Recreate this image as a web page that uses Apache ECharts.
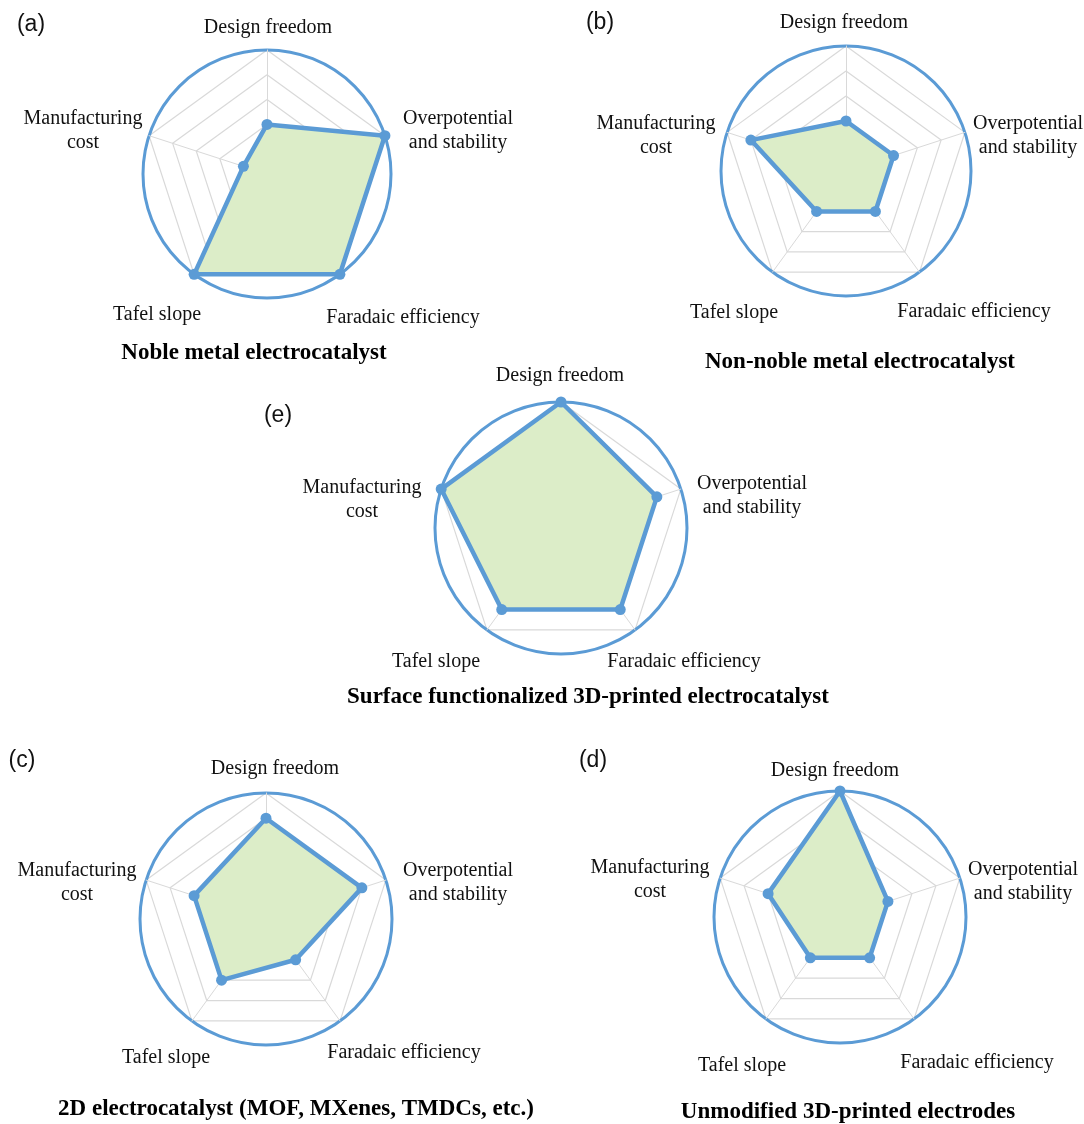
<!DOCTYPE html>
<html>
<head>
<meta charset="utf-8">
<script src="https://cdn.jsdelivr.net/npm/echarts@6/dist/echarts.min.js"></script>
<style>
  html, body { margin: 0; padding: 0; background: #ffffff; }
  #chart { width: 1084px; height: 1124px; }
</style>
</head>
<body>
<div id="chart"></div>
<script>
// Criteria shared by every radar, clockwise from the top
const indicators = [
  'Design freedom',
  'Overpotential\nand stability',
  'Faradaic efficiency',
  'Tafel slope',
  'Manufacturing\ncost'
];
const maxScore = 5;

// Scores (0-5) per electrode type, in indicator order
const nobleMetal = [2, 5, 5, 5, 1];
const nonNobleMetal = [2, 2, 2, 2, 4];
const surfaceFunctionalized = [5, 4, 4, 4, 5];
const twoDimensional = [4, 4, 2, 3, 3];
const unmodified3D = [5, 2, 2, 2, 3];

const panelLetters = ['(a)', '(b)', '(e)', '(c)', '(d)'];
const panelTitles = [
  'Noble metal electrocatalyst',
  'Non-noble metal electrocatalyst',
  'Surface functionalized 3D-printed electrocatalyst',
  '2D electrocatalyst (MOF, MXenes, TMDCs, etc.)',
  'Unmodified 3D-printed electrodes'
];
const panelValues = [nobleMetal, nonNobleMetal, surfaceFunctionalized, twoDimensional, unmodified3D];

// ECharts lays radar indicators out counter-clockwise, so feed them in reverse
// (keeping the first one on top) to read clockwise on the page
const radarOrder = [0, 4, 3, 2, 1];

// Page layout: radar centre/radius, label centres relative to the radar centre
// (indicator order), and the positions of the panel letter and caption
const layouts = [
  { center: [267, 174], radius: 124, letter: [31, 25], title: [254, 353],
    names: [[1, -146], [191, -43], [136, 144], [-110, 141], [-184, -43]] },
  { center: [846, 171], radius: 125, letter: [600, 23], title: [860, 362],
    names: [[-2, -148], [182, -35], [128, 141], [-112, 142], [-190, -35]] },
  { center: [561, 528], radius: 126, letter: [278, 416], title: [588, 697],
    names: [[-1, -152], [191, -32], [123, 134], [-125, 134], [-199, -28]] },
  { center: [266, 919], radius: 126, letter: [22, 761], title: [296, 1109],
    names: [[9, -150], [192, -36], [138, 134], [-100, 139], [-189, -36]] },
  { center: [840, 917], radius: 126, letter: [593, 761], title: [848, 1112],
    names: [[-5, -146], [183, -35], [137, 146], [-98, 149], [-190, -37]] }
];

const BLUE = '#5b9bd5';
const GRID = '#d9d9d9';
const FILL = '#dcedc8';
const SERIF = '"Liberation Serif", "Times New Roman", serif';
const SANS = '"Liberation Sans", Arial, sans-serif';
const NAME_SIZE = 20;

// Rich-text styles that nudge each axis name from its vertex to its label centre
function nameRich(layout) {
  const rich = {};
  const base = { fontFamily: SERIF, fontSize: NAME_SIZE, color: '#111', height: 24 };
  layout.names.forEach((p, k) => {
    const th = (90 - 72 * k) * Math.PI / 180;
    const sx = p[0] - layout.radius * Math.cos(th);
    const sy = p[1] + layout.radius * Math.sin(th);
    const l = Math.max(0, 2 * sx), r = Math.max(0, -2 * sx);
    const t = Math.max(0, 2 * sy), b = Math.max(0, -2 * sy);
    rich['s' + k] = Object.assign({}, base, { padding: [t, r, b, l] });
    rich['f' + k] = Object.assign({}, base, { padding: [t, r, 0, l] });
    rich['l' + k] = Object.assign({}, base, { padding: [0, r, b, l] });
  });
  return rich;
}

function nameFormatter(name) {
  const k = indicators.indexOf(name);
  const lines = name.split('\n');
  if (lines.length === 1) return '{s' + k + '|' + name + '}';
  return '{f' + k + '|' + lines[0] + '}\n{l' + k + '|' + lines[1] + '}';
}

const radarIndicators = radarOrder.map(k => ({ name: indicators[k], min: 0, max: maxScore }));

const radars = [];
const series = [];
const titles = [];

layouts.forEach((lay, i) => {
  // pentagon grid with axis names
  radars.push({
    center: lay.center,
    radius: lay.radius,
    startAngle: 90,
    shape: 'polygon',
    splitNumber: 5,
    nameGap: 0,
    indicator: radarIndicators,
    axisName: {
      show: true,
      align: 'center',
      verticalAlign: 'middle',
      fontFamily: SERIF,
      fontSize: NAME_SIZE,
      color: '#111',
      formatter: nameFormatter,
      rich: nameRich(lay)
    },
    axisLine: { show: true, lineStyle: { color: GRID, width: 1 } },
    splitLine: { show: true, lineStyle: { color: GRID, width: 1.2 } },
    splitArea: { show: false },
    axisTick: { show: false },
    axisLabel: { show: false }
  });
  // outer circular frame
  radars.push({
    center: lay.center,
    radius: lay.radius,
    startAngle: 90,
    shape: 'circle',
    splitNumber: 1,
    indicator: radarIndicators,
    axisName: { show: false },
    axisLine: { show: false },
    splitLine: { show: true, lineStyle: { color: BLUE, width: 3 } },
    splitArea: { show: false },
    axisTick: { show: false },
    axisLabel: { show: false }
  });

  const scores = radarOrder.map(k => panelValues[i][k]);
  // filled area underneath
  series.push({
    type: 'radar',
    radarIndex: 2 * i,
    z: 2,
    symbol: 'none',
    lineStyle: { width: 0, opacity: 0 },
    areaStyle: { color: FILL, opacity: 1 },
    emphasis: { disabled: true },
    silent: true,
    data: [{ value: scores, name: panelTitles[i] }]
  });
  // outline and markers on top
  series.push({
    type: 'radar',
    radarIndex: 2 * i,
    z: 3,
    symbol: 'circle',
    symbolSize: 11,
    lineStyle: { color: BLUE, width: 4.5 },
    itemStyle: { color: BLUE },
    emphasis: { disabled: true },
    data: [{ value: scores, name: panelTitles[i] }]
  });

  titles.push({
    text: panelLetters[i],
    left: lay.letter[0],
    top: lay.letter[1],
    textAlign: 'center',
    textVerticalAlign: 'middle',
    padding: 0,
    textStyle: { fontFamily: SANS, fontSize: 23, fontWeight: 'normal', color: '#111' }
  });
  titles.push({
    text: panelTitles[i],
    left: lay.title[0],
    top: lay.title[1],
    textAlign: 'center',
    textVerticalAlign: 'middle',
    padding: 0,
    textStyle: { fontFamily: SERIF, fontSize: 23, fontWeight: 'bold', color: '#000' }
  });
});

const chart = echarts.init(document.getElementById('chart'), null, { renderer: 'canvas' });
chart.setOption({
  backgroundColor: '#ffffff',
  animation: false,
  title: titles,
  radar: radars,
  series: series
});
</script>
</body>
</html>
